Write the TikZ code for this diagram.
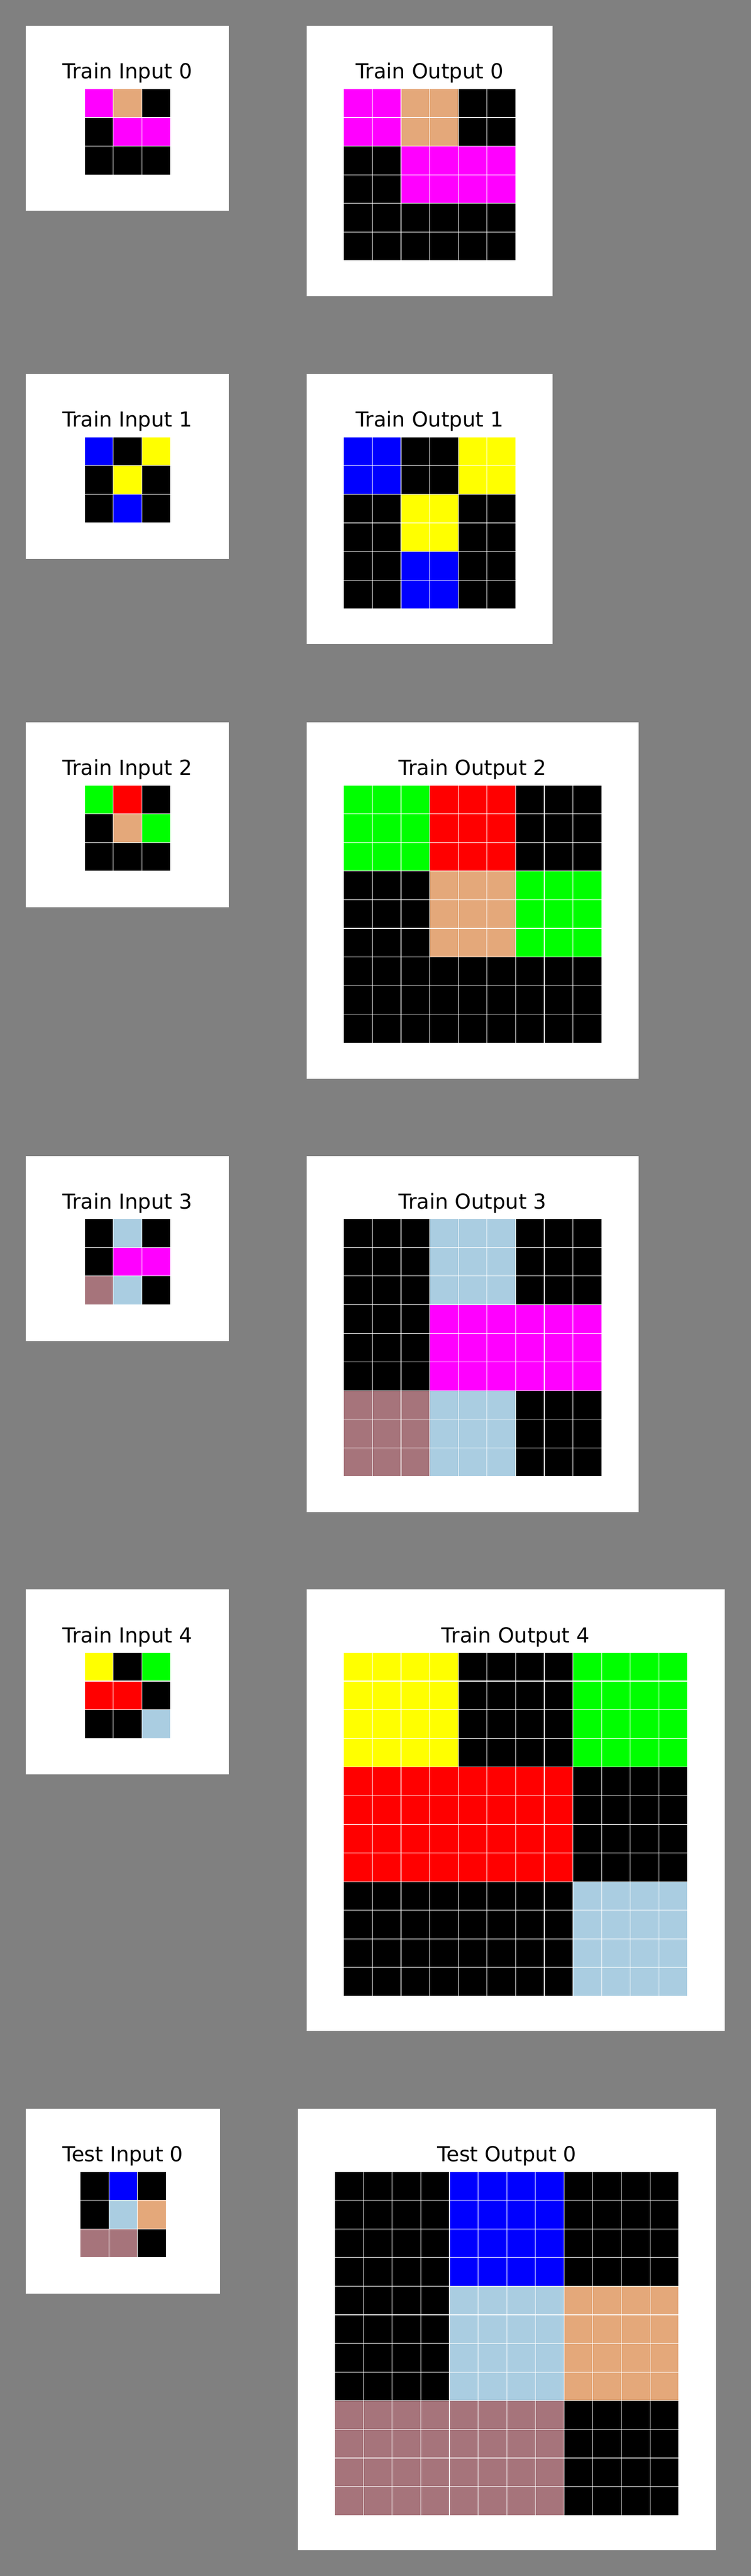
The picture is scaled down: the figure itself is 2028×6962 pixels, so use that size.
\documentclass[tikz,border=0pt]{standalone}
\usepackage{fontspec}
\setmainfont{DejaVu Sans}
\usepackage{tikz}

\definecolor{c0}{RGB}{0,0,0}
\definecolor{c1}{RGB}{0,0,255}
\definecolor{c2}{RGB}{255,0,0}
\definecolor{c3}{RGB}{0,255,0}
\definecolor{c4}{RGB}{255,255,0}
\definecolor{c6}{RGB}{255,0,255}
\definecolor{c7}{RGB}{228,168,122}
\definecolor{c8}{RGB}{170,205,225}
\definecolor{c9}{RGB}{166,116,123}
\definecolor{bg}{RGB}{128,128,128}

\newcommand{\cellsz}{77.4}
\newcommand{\arcgrid}[4]{%
  \foreach \cellrow [count=\ri from 0] in {#4} {
    \foreach \cellcol [count=\rj from 0] in \cellrow {
      \foreach \ii in {1,...,#3} {
        \foreach \jj in {1,...,#3}
          \filldraw[cell, fill=c\cellcol]
            ({#1+(\rj*#3+\jj-1)*\cellsz},{#2+(\ri*#3+\ii-1)*\cellsz}) rectangle +(\cellsz,\cellsz);
      }
    }
  }
}

\begin{document}
\begin{tikzpicture}[x=0.01cm,y=-0.01cm,
    panel/.style={fill=white},
    cell/.style={draw=white,line width=0.45pt},
    title/.style={anchor=base,font=\fontsize{15.9}{19}\selectfont}]
  \useasboundingbox (0,0) rectangle (2028,6962);
  \fill[bg] (-20,-20) rectangle (2048,6982);

  \fill[panel] (70,70)     rectangle (618,570);
  \fill[panel] (828,70)    rectangle (1493,801);
  \fill[panel] (70,1011)   rectangle (618,1511);
  \fill[panel] (828,1011)  rectangle (1493,1741);
  \fill[panel] (70,1952)   rectangle (618,2452);
  \fill[panel] (828,1952)  rectangle (1725.5,2915);
  \fill[panel] (70,3124)   rectangle (618,3624);
  \fill[panel] (828,3124)  rectangle (1725.5,4086);
  \fill[panel] (70,4296)   rectangle (618,4796);
  \fill[panel] (828,4296)  rectangle (1958,5489);
  \fill[panel] (70,5699)   rectangle (594,6199);
  \fill[panel] (804.5,5699) rectangle (1934,6892);

  \node[title] (tin0)   at (344,213)      {Train Input 0};
  \node[title] (tout0)  at (1160.5,213)   {Train Output 0};
  \node[title] (tin1)   at (344,1154)     {Train Input 1};
  \node[title] (tout1)  at (1160.5,1154)  {Train Output 1};
  \node[title] (tin2)   at (344,2095)     {Train Input 2};
  \node[title] (tout2)  at (1276.75,2095) {Train Output 2};
  \node[title] (tin3)   at (344,3267)     {Train Input 3};
  \node[title] (tout3)  at (1276.75,3267) {Train Output 3};
  \node[title] (tin4)   at (344,4439)     {Train Input 4};
  \node[title] (tout4)  at (1393,4439)    {Train Output 4};
  \node[title] (ttin0)  at (332,5842)     {Test Input 0};
  \node[title] (ttout0) at (1369.25,5842) {Test Output 0};

  \arcgrid{228.5}{240}{1}{{6,7,0},{0,6,6},{0,0,0}}
  \arcgrid{928.5}{240}{2}{{6,7,0},{0,6,6},{0,0,0}}
  \arcgrid{228.5}{1181}{1}{{1,0,4},{0,4,0},{0,1,0}}
  \arcgrid{928.5}{1181}{2}{{1,0,4},{0,4,0},{0,1,0}}
  \arcgrid{228.5}{2122}{1}{{3,2,0},{0,7,3},{0,0,0}}
  \arcgrid{928.5}{2122}{3}{{3,2,0},{0,7,3},{0,0,0}}
  \arcgrid{228.5}{3294}{1}{{0,8,0},{0,6,6},{9,8,0}}
  \arcgrid{928.5}{3294}{3}{{0,8,0},{0,6,6},{9,8,0}}
  \arcgrid{228.5}{4466}{1}{{4,0,3},{2,2,0},{0,0,8}}
  \arcgrid{928.5}{4466}{4}{{4,0,3},{2,2,0},{0,0,8}}
  \arcgrid{216.5}{5869}{1}{{0,1,0},{0,8,7},{9,9,0}}
  \arcgrid{904.5}{5869}{4}{{0,1,0},{0,8,7},{9,9,0}}
\end{tikzpicture}
\end{document}
